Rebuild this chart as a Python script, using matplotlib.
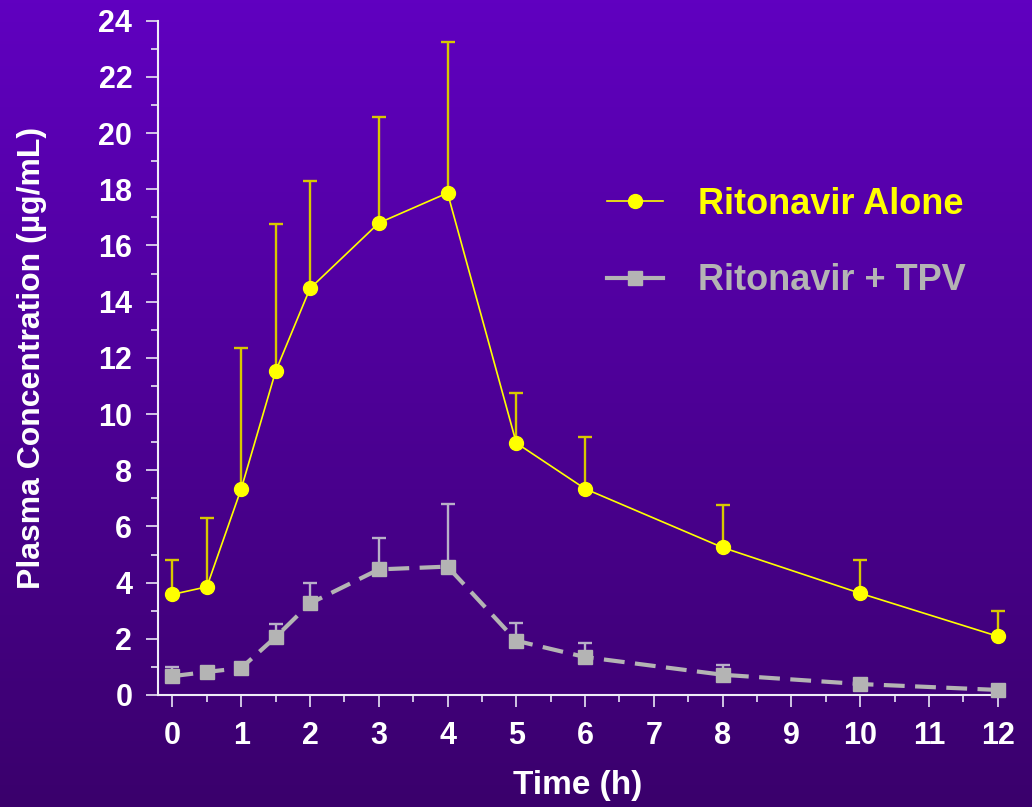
import numpy as np
import matplotlib
matplotlib.use("Agg")
import matplotlib.pyplot as plt
from matplotlib.ticker import MultipleLocator
from matplotlib.lines import Line2D

# ---- data ----
time_h = [0, 0.5, 1, 1.5, 2, 3, 4, 5, 6, 8, 10, 12]
rtv_alone = [3.58, 3.85, 7.34, 11.52, 14.47, 16.8, 17.87, 8.97, 7.34, 5.25, 3.62, 2.09]
rtv_alone_upper = [4.79, 6.31, 12.34, 16.77, 18.3, 20.57, 23.23, 10.74, 9.18, 6.77, 4.79, 2.98]
rtv_tpv = [0.67, 0.82, 0.96, 2.06, 3.26, 4.47, 4.57, 1.93, 1.35, 0.72, 0.39, 0.18]
rtv_tpv_upper = [0.99, 0.9, 1.05, 2.52, 3.98, 5.6, 6.81, 2.55, 1.85, 1.07, 0.45, 0.22]
x_ticks = list(range(0, 13))
y_ticks = list(range(0, 25, 2))
labels = ["Ritonavir Alone", "Ritonavir + TPV"]

FONT = ["Liberation Sans", "DejaVu Sans"]
plt.rcParams["font.family"] = FONT
plt.rcParams["font.weight"] = "bold"

fig = plt.figure(figsize=(10.32, 8.07), dpi=100)

# gradient background
bg = fig.add_axes([0, 0, 1, 1], zorder=-10)
top = np.array([96, 0, 192]) / 255.0
bot = np.array([58, 0, 108]) / 255.0
t = np.linspace(0, 1, 256)[:, None]
grad = top[None, :] * (1 - t) + bot[None, :] * t
bg.imshow(grad[:, None, :], aspect="auto", extent=[0, 1, 0, 1])
bg.axis("off")

ax = fig.add_axes([0.1531, 0.1388, 0.8137, 0.8355])
ax.patch.set_alpha(0)

yel = "#FFFF00"
yel_err = "#D8C800"
gry = "#B4B4B4"
gry_err = "#B8B0C8"

a = np.array(rtv_alone); au = np.array(rtv_alone_upper)
g = np.array(rtv_tpv); gu = np.array(rtv_tpv_upper)

# upward-only error bars with caps only at the top
for mean, up, col in [(a, au, yel_err), (g, gu, gry_err)]:
    ax.vlines(time_h, mean, up, colors=col, lw=1.7, zorder=2, clip_on=False)
    ax.plot(time_h, up, ls="none", marker="_", ms=9.5, mew=1.7, color=col,
            zorder=2, clip_on=False)

l1, = ax.plot(time_h, a, color=yel, lw=1.2, marker="o", ms=10,
              markerfacecolor=yel, markeredgecolor=yel, zorder=4,
              clip_on=False, label=labels[0])
l2, = ax.plot(time_h, g, color=gry, lw=3, ls=(0, (5, 2.5)), marker="s",
              ms=10.5, markerfacecolor=gry, markeredgecolor=gry, zorder=3,
              clip_on=False, label=labels[1])

ax.set_xlim(-0.21, 12)
ax.set_ylim(0, 24)
ax.set_xticks(x_ticks)
ax.set_yticks(y_ticks)
ax.xaxis.set_minor_locator(MultipleLocator(0.5))
ax.yaxis.set_minor_locator(MultipleLocator(1))

for side in ["top", "right"]:
    ax.spines[side].set_visible(False)
for side in ["left", "bottom"]:
    ax.spines[side].set_color("#F0ECF8")
    ax.spines[side].set_linewidth(1.5)

tick_col = "#DCD4EC"
ax.tick_params(axis="both", which="major", direction="out", color=tick_col,
               width=1.3, length=8.5, labelcolor="white", labelsize=22, pad=10)
ax.tick_params(axis="both", which="minor", direction="out", color=tick_col,
               width=1.3, length=5)
for lab in ax.get_xticklabels() + ax.get_yticklabels():
    lab.set_fontweight("bold")

ax.set_xlabel("Time (h)", color="white", fontsize=24, fontweight="bold", labelpad=14)
ax.set_ylabel("Plasma Concentration (µg/mL)", color="white", fontsize=23,
              fontweight="bold", labelpad=37)

h1 = Line2D([], [], color=yel, lw=1.2, marker="o", ms=10, markeredgecolor=yel)
h2 = Line2D([], [], color=gry, lw=3, marker="s", ms=10.5, markeredgecolor=gry)
leg = ax.legend(handles=[h1, h2], labels=labels, loc="center left",
                bbox_to_anchor=(0.535, 0.671), frameon=False, fontsize=26,
                handlelength=1.55, handletextpad=0.95, labelspacing=1.15,
                borderpad=0, borderaxespad=0)
for txt, c in zip(leg.get_texts(), [yel, gry]):
    txt.set_color(c)
    txt.set_fontweight("bold")

fig.savefig("out.png", dpi=100)
